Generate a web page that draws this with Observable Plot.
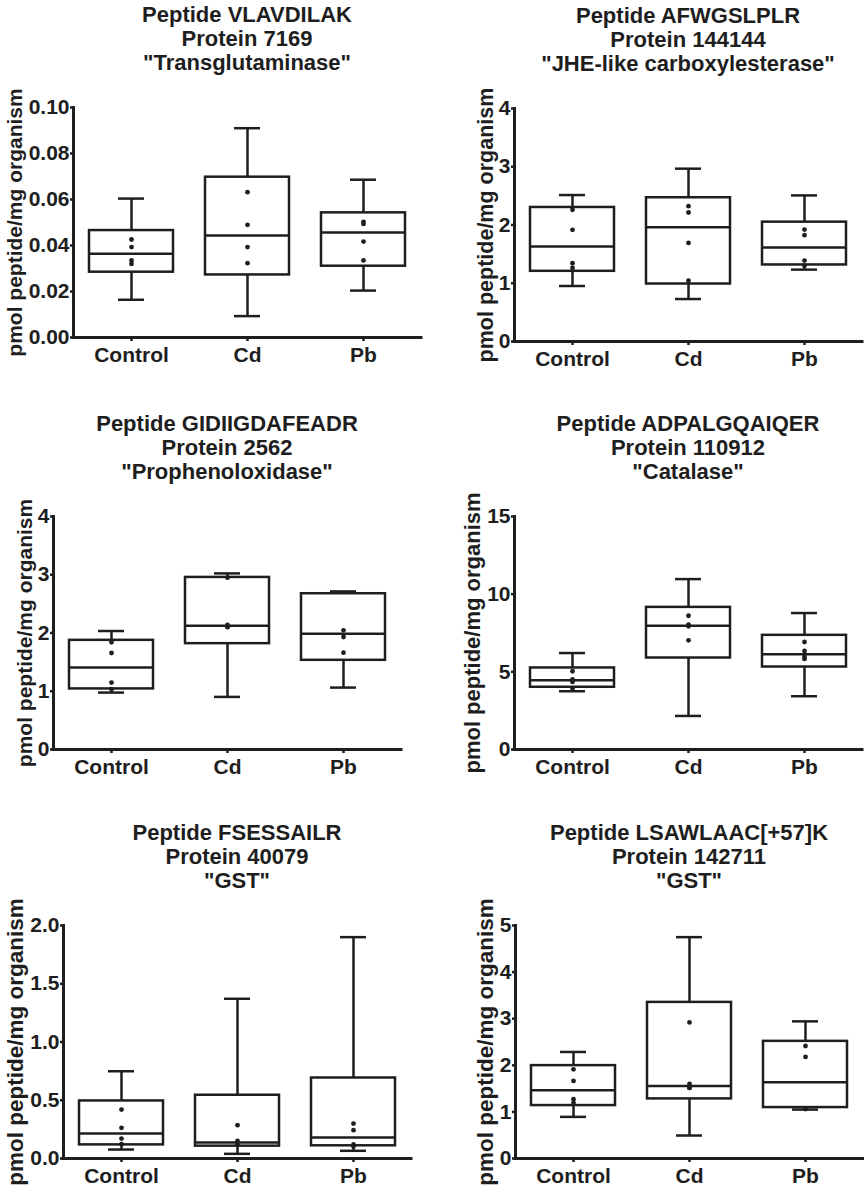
<!DOCTYPE html>
<html><head><meta charset="utf-8">
<script src="https://cdn.jsdelivr.net/npm/d3@7"></script>
<script src="https://cdn.jsdelivr.net/npm/@observablehq/plot@0.6"></script>
<style>
body{margin:0;background:#fff;}
#root{position:relative;width:864px;height:1192px;background:#fff;font-family:Arial,"Liberation Sans",Helvetica,sans-serif;color:#1e1e1e;overflow:hidden;}
.title{position:absolute;text-align:center;font-weight:bold;font-size:22px;line-height:24px;white-space:nowrap;}
.panel{position:absolute;}
.panel svg{overflow:visible;}
</style></head><body><div id="root"></div>
<script>
// ---------- data ----------
const groups = ["Control", "Cd", "Pb"];
const peptides = ["VLAVDILAK", "AFWGSLPLR", "GIDIIGDAFEADR", "ADPALGQAIQER", "FSESSAILR", "LSAWLAAC[+57]K"];
const proteins = ["7169", "144144", "2562", "110912", "40079", "142711"];
const proteinNames = ["Transglutaminase", "JHE-like carboxylesterase", "Prophenoloxidase", "Catalase", "GST", "GST"];
const yLabel = "pmol peptide/mg organism";
const yMax = [0.10, 4, 4, 15, 2.0, 5];
const yTicks = [
  [0, 0.02, 0.04, 0.06, 0.08, 0.10],
  [0, 1, 2, 3, 4],
  [0, 1, 2, 3, 4],
  [0, 5, 10, 15],
  [0, 0.5, 1.0, 1.5, 2.0],
  [0, 1, 2, 3, 4, 5]
];
const yTickDecimals = [2, 0, 0, 0, 1, 0];

// box-plot summaries per panel, in order Control, Cd, Pb
const whiskerLow = [
  [0.0164, 0.0093, 0.0204],
  [0.953, 0.729, 1.234],
  [0.977, 0.903, 1.063],
  [3.75, 2.16, 3.43],
  [0.077, 0.040, 0.066],
  [0.893, 0.493, 1.05]
];
const quartile1 = [
  [0.0284, 0.0272, 0.0310],
  [1.205, 0.987, 1.314],
  [1.040, 1.817, 1.531],
  [4.007, 5.89, 5.31],
  [0.117, 0.106, 0.109],
  [1.136, 1.279, 1.093]
];
const medians = [
  [0.0364, 0.0443, 0.0457],
  [1.630, 1.963, 1.613],
  [1.406, 2.126, 1.989],
  [4.457, 7.97, 6.13],
  [0.214, 0.137, 0.180],
  [1.464, 1.557, 1.636]
];
const quartile3 = [
  [0.0465, 0.0697, 0.0542],
  [2.301, 2.468, 2.049],
  [1.874, 2.954, 2.674],
  [5.25, 9.15, 7.35],
  [0.494, 0.543, 0.691],
  [1.993, 3.35, 2.514]
];
const whiskerHigh = [
  [0.0604, 0.0910, 0.0686],
  [2.514, 2.967, 2.508],
  [2.034, 3.023, 2.714],
  [6.21, 10.97, 8.785],
  [0.749, 1.371, 1.900],
  [2.286, 4.75, 2.943]
];
// individual points visible inside each box
const dotValues = [
  [[0.0426, 0.0393, 0.0335, 0.0320], [0.0632, 0.0490, 0.0393, 0.0323], [0.0503, 0.0494, 0.0417, 0.0335]],
  [[2.261, 1.917, 1.343, 1.263], [2.324, 2.215, 1.693, 1.044], [1.922, 1.825, 1.389, 1.300]],
  [[1.840, 1.657, 1.149, 1.034], [2.95, 2.10, 2.11, 2.14], [2.046, 1.931, 1.663]],
  [[5.036, 4.52, 4.35, 3.92], [8.61, 8.04, 7.93, 7.03], [6.92, 6.34, 5.96, 5.83]],
  [[0.42, 0.263, 0.171, 0.123], [0.286, 0.151, 0.123], [0.30, 0.243, 0.12, 0.103]],
  [[1.914, 1.664, 1.271, 1.193], [2.921, 1.60, 1.514, 1.514], [2.414, 2.179, 1.07, 1.06]]
];

// ---------- layout ----------
const layout = [
  {left: 0,   marginLeft: 73, top: 107, plotHeight: 230, labelOffset: 66, labelSize: 21},
  {left: 432, marginLeft: 82, top: 108, plotHeight: 233, labelOffset: 37, labelSize: 21.5},
  {left: 0,   marginLeft: 53, top: 516, plotHeight: 233, labelOffset: 36, labelSize: 21},
  {left: 432, marginLeft: 82, top: 516, plotHeight: 233, labelOffset: 50, labelSize: 22},
  {left: 0,   marginLeft: 63, top: 925, plotHeight: 233, labelOffset: 56, labelSize: 22.5},
  {left: 432, marginLeft: 83, top: 925, plotHeight: 233, labelOffset: 38, labelSize: 22.5}
];
const plotWidth = 348;
const ink = "#1e1e1e";
const root = document.getElementById("root");

layout.forEach((L, i) => {
  const stats = groups.map((g, j) => ({
    group: g,
    lo: whiskerLow[i][j], q1: quartile1[i][j], med: medians[i][j], q3: quartile3[i][j], hi: whiskerHigh[i][j]
  }));
  const dots = groups.flatMap((g, j) => dotValues[i][j].map(v => ({group: g, value: v})));
  const marginTop = 10, marginBottom = 50;
  const dec = yTickDecimals[i];

  const chart = Plot.plot({
    width: 432,
    height: L.plotHeight + marginTop + marginBottom,
    marginLeft: L.marginLeft,
    marginRight: 432 - L.marginLeft - plotWidth,
    marginTop, marginBottom,
    style: {fontFamily: 'Arial, "Liberation Sans", Helvetica, sans-serif', fontWeight: "bold", color: ink, background: "transparent", overflow: "visible"},
    x: {domain: groups, padding: 0},
    y: {domain: [0, yMax[i]]},
    marks: [
      Plot.ruleX(stats, {x: "group", y1: "lo", y2: "q1", stroke: ink, strokeWidth: 2.5}),
      Plot.ruleX(stats, {x: "group", y1: "q3", y2: "hi", stroke: ink, strokeWidth: 2.5}),
      Plot.tickY(stats, {x: "group", y: "lo", insetLeft: 45, insetRight: 45, stroke: ink, strokeWidth: 2.5}),
      Plot.tickY(stats, {x: "group", y: "hi", insetLeft: 45, insetRight: 45, stroke: ink, strokeWidth: 2.5}),
      Plot.barY(stats, {x: "group", y1: "q1", y2: "q3", insetLeft: 16, insetRight: 16, fill: "white", stroke: ink, strokeWidth: 2.5}),
      Plot.tickY(stats, {x: "group", y: "med", insetLeft: 16, insetRight: 16, stroke: ink, strokeWidth: 2.5}),
      Plot.dot(dots, {x: "group", y: "value", r: 2.4, fill: ink, stroke: null}),
      Plot.axisY({ticks: yTicks[i], tickFormat: d => d.toFixed(dec), tickSize: 3, tickPadding: 1, strokeWidth: 2.5, fontSize: 21, label: null}),
      Plot.axisY({ticks: [], tickSize: 0, label: yLabel, labelAnchor: "center", labelArrow: "none", labelOffset: L.labelOffset, fontSize: L.labelSize}),
      Plot.axisX({tickSize: 4, tickPadding: 6, strokeWidth: 2.5, fontSize: 21, label: null}),
      Plot.frame({anchor: "left", stroke: ink, strokeWidth: 3, strokeLinecap: "square"}),
      Plot.ruleY([0], {stroke: ink, strokeWidth: 3, strokeLinecap: "square"})
    ]
  });

  const panel = document.createElement("div");
  panel.className = "panel";
  panel.style.left = L.left + "px";
  panel.style.top = (L.top - marginTop) + "px";
  panel.appendChild(chart);
  root.appendChild(panel);

  const title = document.createElement("div");
  title.className = "title";
  title.style.left = (L.left + L.marginLeft) + "px";
  title.style.width = plotWidth + "px";
  title.style.top = (L.top - 104) + "px";
  [`Peptide ${peptides[i]}`, `Protein ${proteins[i]}`, `"${proteinNames[i]}"`].forEach(t => {
    const line = document.createElement("div");
    line.textContent = t;
    title.appendChild(line);
  });
  root.appendChild(title);
});
</script>
</body></html>
